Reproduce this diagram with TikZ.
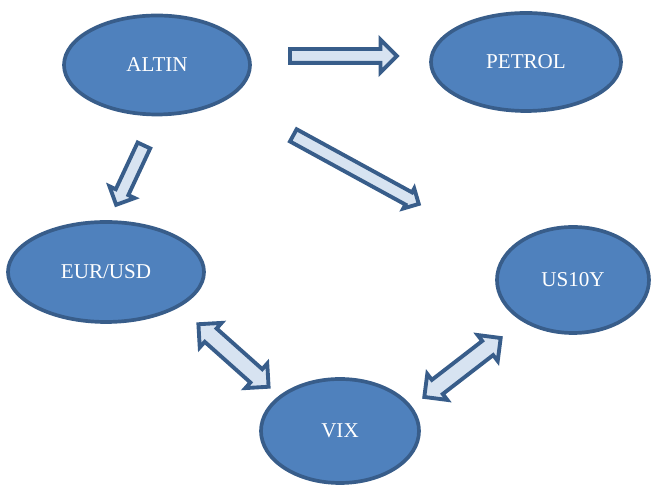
\documentclass[tikz,border=0pt]{standalone}
\usepackage{fontspec}
\setmainfont{Liberation Serif}
\usepackage{tikz}
\usetikzlibrary{shapes.geometric, shapes.arrows}
\definecolor{ovalfill}{HTML}{4F81BD}
\definecolor{ovaldraw}{HTML}{385D8A}
\definecolor{arrowfill}{HTML}{D7E3F1}
\tikzstyle{oval} = [ellipse, inner sep=0pt, line width=2.1pt, draw=ovaldraw, fill=ovalfill, text=white, font=\fontsize{12}{14}\selectfont]
\tikzstyle{fatarrow} = [single arrow, midway, sloped, allow upside down, minimum width=0pt, line width=2.2pt, draw=ovaldraw, fill=arrowfill]
\tikzstyle{twoarrow} = [double arrow, midway, sloped, allow upside down, minimum width=0pt, line width=2.2pt, draw=ovaldraw, fill=arrowfill]

\begin{document}
\begin{tikzpicture}
		\useasboundingbox (0,0) rectangle (13.04,9.74);
		\coordinate (altin) at (3.14,8.44);
		\coordinate (petrol) at (10.52,8.50);
		\coordinate (eurusd) at (2.12,4.30);
		\coordinate (usy) at (11.46,4.14);
		\coordinate (vix) at (6.80,1.12);
		% Ovals
		\node[oval, name=altin, minimum width=3.72cm, minimum height=1.98cm] at (altin) {ALTIN};
		\node[oval, name=petrol, minimum width=3.80cm, minimum height=1.96cm] at (petrol) {PETROL};
		\node[oval, name=eurusd, minimum width=3.92cm, minimum height=2.0cm] at (eurusd) {EUR/USD};
		\node[oval, name=usy, minimum width=3.04cm, minimum height=2.12cm] at (usy) {US10Y};
		\node[oval, name=vix, minimum width=3.16cm, minimum height=2.08cm] at (vix) {VIX};
		% Arrow ends
		\coordinate (ap1) at (5.70,8.62);
		\coordinate (ap2) at (7.90,8.62);
		\coordinate (ae1) at (2.92,6.92);
		\coordinate (ae2) at (2.34,5.68);
		\coordinate (au1) at (5.78,7.08);
		\coordinate (au2) at (8.34,5.68);
		\coordinate (ev1) at (3.94,3.28);
		\coordinate (ev2) at (5.40,1.98);
		\coordinate (uv1) at (10.04,3.00);
		\coordinate (uv2) at (8.46,1.78);
		% Single arrows
		\path (ap1) -- (ap2) node[fatarrow, inner sep=0.10cm, single arrow head extend=0.19cm, minimum height=2.14cm] {};
		\path (ae1) -- (ae2) node[fatarrow, inner sep=0.10cm, single arrow head extend=0.14cm, minimum height=1.31cm] {};
		\path (au1) -- (au2) node[fatarrow, inner sep=0.10cm, single arrow head extend=0.09cm, minimum height=2.86cm] {};
		% Double arrows
		\path (ev1) -- (ev2) node[twoarrow, inner sep=0.14cm, double arrow head extend=0.15cm, minimum height=1.88cm] {};
		\path (uv1) -- (uv2) node[twoarrow, inner sep=0.14cm, double arrow head extend=0.15cm, minimum height=1.93cm] {};
\end{tikzpicture}
\end{document}
